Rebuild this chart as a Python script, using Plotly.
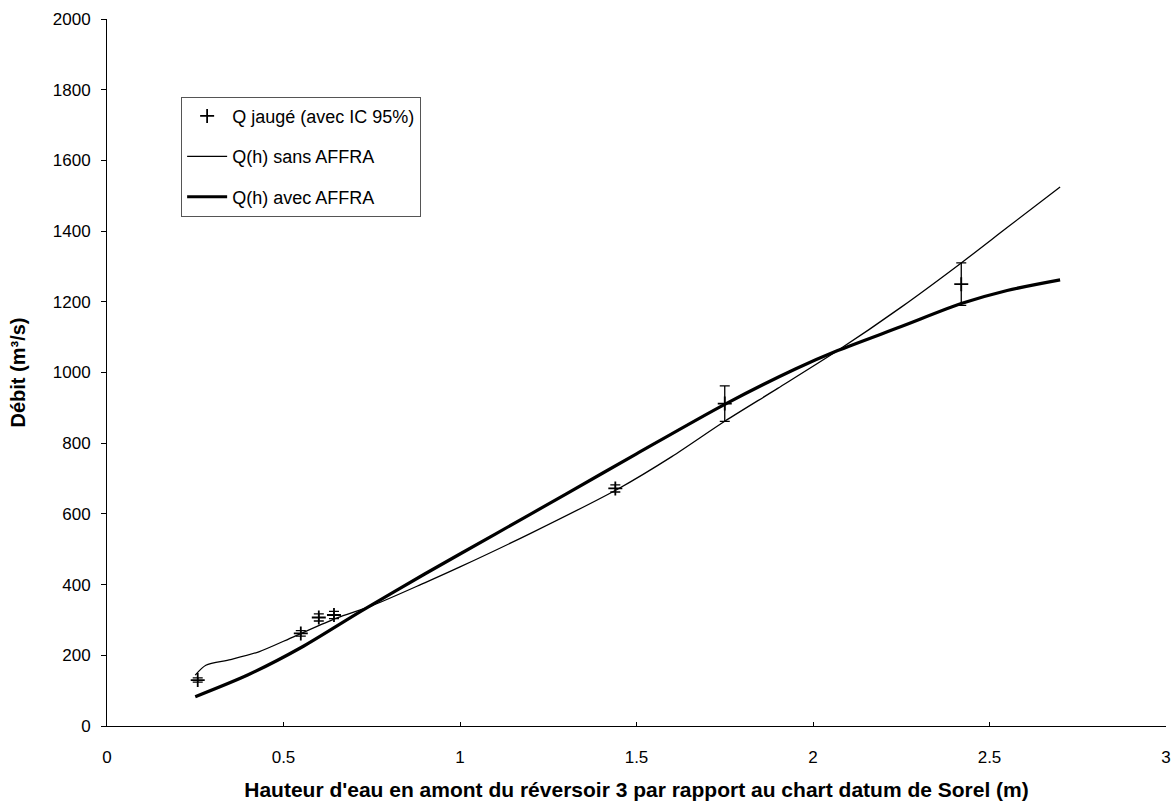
import plotly.graph_objects as go

# Measured discharge with 95% CI
h_obs = [0.257, 0.549, 0.60, 0.643, 1.44, 1.75, 2.42]
q_obs = [130, 262, 307, 314, 672, 912, 1250]
q_err = [6, 8, 10, 10, 10, 50, 60]

# Rating curve without AFFRA
h_sans = [0.25, 0.28, 0.35, 0.43, 0.53, 0.65, 0.75, 0.9, 1.0, 1.2, 1.45, 1.6, 1.75, 1.9, 2.07, 2.25, 2.42, 2.55, 2.7]
q_sans = [144, 172, 188, 210, 253, 305, 340, 405, 450, 545, 672, 762, 862, 955, 1062, 1185, 1310, 1410, 1525]

# Rating curve with AFFRA
h_avec = [0.25, 0.4, 0.55, 0.72, 0.9, 1.1, 1.3, 1.5, 1.75, 1.95, 2.07, 2.25, 2.42, 2.55, 2.7]
q_avec = [83, 145, 222, 325, 430, 543, 656, 770, 910, 1010, 1062, 1130, 1195, 1232, 1262]

x_ticks = [0, 0.5, 1, 1.5, 2, 2.5, 3]
y_ticks = list(range(0, 2001, 200))

fig = go.Figure()
fig.add_trace(go.Scatter(
    x=h_obs, y=q_obs, mode="markers", name="Q jaugé (avec IC 95%)", legendgroup="a",
    marker=dict(symbol="cross-thin", size=10, line=dict(color="black", width=1.8), color="black"),
    error_y=dict(type="data", array=q_err, color="black", thickness=1.3, width=5),
))
fig.add_trace(go.Scatter(
    x=h_sans, y=q_sans, mode="lines", name="Q(h) sans AFFRA", legendgroup="b",
    line=dict(color="black", width=1.3, shape="spline", smoothing=0.8),
))
fig.add_trace(go.Scatter(
    x=h_avec, y=q_avec, mode="lines", name="Q(h) avec AFFRA", legendgroup="c",
    line=dict(color="black", width=3.2, shape="spline", smoothing=0.8),
))

fig.update_layout(
    width=1176, height=808,
    margin=dict(l=107, r=5, t=19, b=82),
    paper_bgcolor="white", plot_bgcolor="white",
    font=dict(family="Liberation Sans, Arial, sans-serif", size=17, color="black"),
    showlegend=True,
    legend=dict(
        x=0.07, y=0.89, xanchor="left", yanchor="top",
        bgcolor="white", bordercolor="#555555", borderwidth=1,
        font=dict(size=18), tracegroupgap=14, itemwidth=40,
    ),
    xaxis=dict(
        range=[0, 3], tickvals=x_ticks, ticktext=[str(v) for v in x_ticks],
        showline=True, linecolor="black", linewidth=1, ticks="inside", ticklen=4,
        tickcolor="black", showgrid=False, zeroline=False, ticklabelstandoff=16,
        tickfont=dict(size=17),
        title=dict(text="<b>Hauteur d'eau en amont du réversoir 3 par rapport au chart datum de Sorel (m)</b>",
                   font=dict(size=21), standoff=15),
    ),
    yaxis=dict(
        range=[0, 2000], tickvals=y_ticks,
        showline=True, linecolor="black", linewidth=1, ticks="outside", ticklen=5,
        tickcolor="black", showgrid=False, zeroline=False, ticklabelstandoff=7,
        tickfont=dict(size=17),
        title=dict(text="<b>Débit (m³/s)</b>", font=dict(size=20), standoff=21),
    ),
)

fig.write_html("out.html")
